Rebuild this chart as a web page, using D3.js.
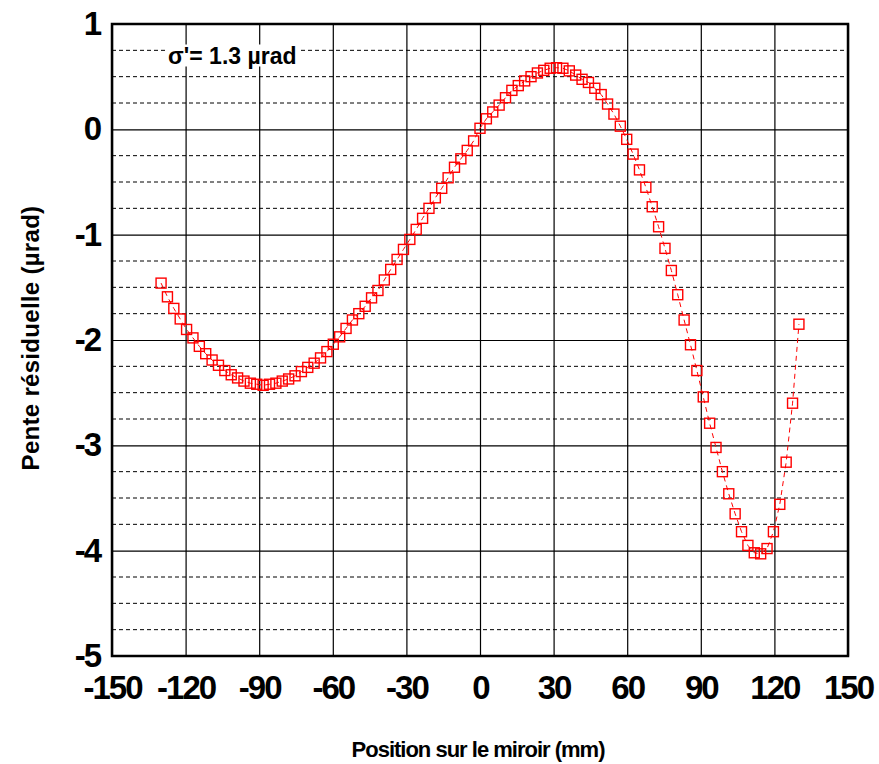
<!DOCTYPE html>
<html>
<head>
    <meta charset="utf-8">
    <script src="https://cdn.jsdelivr.net/npm/d3@7/dist/d3.min.js"></script>
    <style>
        body { margin: 0; background: #fff; }
        text { font-family: "Liberation Sans", Arial, sans-serif; font-weight: bold; }
    </style>
</head>
<body>
    <div id="chart"></div>
    <script>
        // position on the mirror (mm), one sample every 2.6 mm
        var positions = d3.range(101).map(function (i) { return +(-130 + 2.6 * i).toFixed(1); });

        // residual slope (µrad)
        var slope = [
            -1.46, -1.59, -1.70, -1.80, -1.90, -1.98, -2.06, -2.13, -2.19, -2.24,
            -2.29, -2.33, -2.36, -2.39, -2.41, -2.42, -2.43, -2.42, -2.41, -2.39,
            -2.37, -2.34, -2.30, -2.26, -2.22, -2.17, -2.11, -2.04, -1.97, -1.89,
            -1.81, -1.75, -1.68, -1.60, -1.53, -1.43, -1.33, -1.235, -1.14, -1.045,
            -0.95, -0.845, -0.75, -0.65, -0.56, -0.46, -0.36, -0.28, -0.20, -0.11,
            0.01, 0.10, 0.165, 0.23, 0.30, 0.37, 0.415, 0.46, 0.50, 0.535,
            0.56, 0.58, 0.585, 0.58, 0.555, 0.515, 0.475, 0.445, 0.39, 0.33,
            0.24, 0.145, 0.03, -0.095, -0.235, -0.385, -0.55, -0.735, -0.925, -1.13,
            -1.34, -1.57, -1.81, -2.045, -2.29, -2.54, -2.79, -3.02, -3.25, -3.46,
            -3.65, -3.82, -3.95, -4.02, -4.03, -3.98, -3.82, -3.56, -3.16, -2.60,
            -1.85
        ];

        var xTicks = [-150, -120, -90, -60, -30, 0, 30, 60, 90, 120, 150];
        var yTicks = [1, 0, -1, -2, -3, -4, -5];
        var annotation = "σ'= 1.3 µrad";

        var margin = { top: 24, right: 31, bottom: 108, left: 112 },
            width = 879 - margin.left - margin.right,
            height = 764 - margin.top - margin.bottom;

        var svg = d3.select("#chart")
            .append("svg")
            .attr("width", 879)
            .attr("height", 764)
            .append("g")
            .attr("transform", "translate(" + margin.left + "," + margin.top + ")");

        var x = d3.scaleLinear().domain([-150, 150]).range([0, width]);
        var y = d3.scaleLinear().domain([-5, 1]).range([height, 0]);

        // plain hyphen for negatives, like the original
        var fmt = function (d) { return String(d); };

        // dashed minor grid every 0.25
        var minor = d3.range(-5, 1.001, 0.25).filter(function (v) { return Math.abs(v - Math.round(v)) > 0.01; });
        svg.append("g")
            .selectAll("line")
            .data(minor)
            .enter().append("line")
            .attr("x1", 0).attr("x2", width)
            .attr("y1", function (d) { return y(d); })
            .attr("y2", function (d) { return y(d); })
            .attr("stroke", "#000")
            .attr("stroke-width", 1)
            .attr("stroke-dasharray", "4,3");

        // solid major grid
        svg.append("g")
            .attr("class", "grid")
            .call(d3.axisLeft(y).tickValues(yTicks).tickSize(-width).tickFormat(""))
            .call(function (g) { g.select(".domain").remove(); })
            .selectAll("line").attr("stroke", "#000").attr("stroke-width", 1.2);
        svg.append("g")
            .attr("class", "grid")
            .call(d3.axisBottom(x).tickValues(xTicks).tickSize(height).tickFormat(""))
            .call(function (g) { g.select(".domain").remove(); })
            .selectAll("line").attr("stroke", "#000").attr("stroke-width", 1.2);

        // annotation with white box behind
        var noteG = svg.append("g");
        var note = noteG.append("text")
            .attr("x", x(-130) + 7)
            .attr("y", y(0.625))
            .attr("font-size", 23)
            .attr("letter-spacing", 0)
            .text(annotation);
        var bb = note.node().getBBox();
        noteG.insert("rect", ":first-child")
            .attr("x", bb.x - 2).attr("y", bb.y + 2)
            .attr("width", bb.width + 4).attr("height", bb.height - 4)
            .attr("fill", "#fff");

        // frame
        svg.append("rect")
            .attr("width", width).attr("height", height)
            .attr("fill", "none")
            .attr("stroke", "#000")
            .attr("stroke-width", 2.5);

        // axis labels
        var xAxis = svg.append("g")
            .attr("transform", "translate(0," + height + ")")
            .call(d3.axisBottom(x).tickValues(xTicks).tickSize(0).tickPadding(20).tickFormat(fmt));
        xAxis.select(".domain").remove();
        xAxis.selectAll("text")
            .attr("font-size", 33)
            .attr("letter-spacing", -2)
            .attr("fill", "#000");

        var yAxis = svg.append("g")
            .call(d3.axisLeft(y).tickValues(yTicks).tickSize(0).tickPadding(12).tickFormat(fmt));
        yAxis.select(".domain").remove();
        yAxis.selectAll("text")
            .attr("font-size", 33)
            .attr("letter-spacing", -2)
            .attr("fill", "#000");

        // titles
        svg.append("text")
            .attr("x", width / 2 - 2)
            .attr("y", height + 101)
            .attr("text-anchor", "middle")
            .attr("font-size", 22)
            .attr("letter-spacing", -1)
            .text("Position sur le miroir (mm)");
        svg.append("text")
            .attr("transform", "translate(" + (39 - margin.left) + "," + (338 - margin.top) + ")rotate(-90)")
            .attr("text-anchor", "middle")
            .attr("font-size", 24)
            .attr("letter-spacing", 0.3)
            .text("Pente résiduelle (µrad)");

        // data
        var data = positions.map(function (p, i) { return { x: p, y: slope[i] }; });

        svg.append("path")
            .datum(data)
            .attr("fill", "none")
            .attr("stroke", "#ff0000")
            .attr("stroke-width", 1)
            .attr("stroke-dasharray", "5,4")
            .attr("d", d3.line().x(function (d) { return x(d.x); }).y(function (d) { return y(d.y); }));

        var s = 10;
        svg.append("g")
            .selectAll("rect")
            .data(data)
            .enter().append("rect")
            .attr("x", function (d) { return x(d.x) - s / 2; })
            .attr("y", function (d) { return y(d.y) - s / 2; })
            .attr("width", s)
            .attr("height", s)
            .attr("fill", "none")
            .attr("stroke", "#ff0000")
            .attr("stroke-width", 1.4);
    </script>
</body>
</html>
